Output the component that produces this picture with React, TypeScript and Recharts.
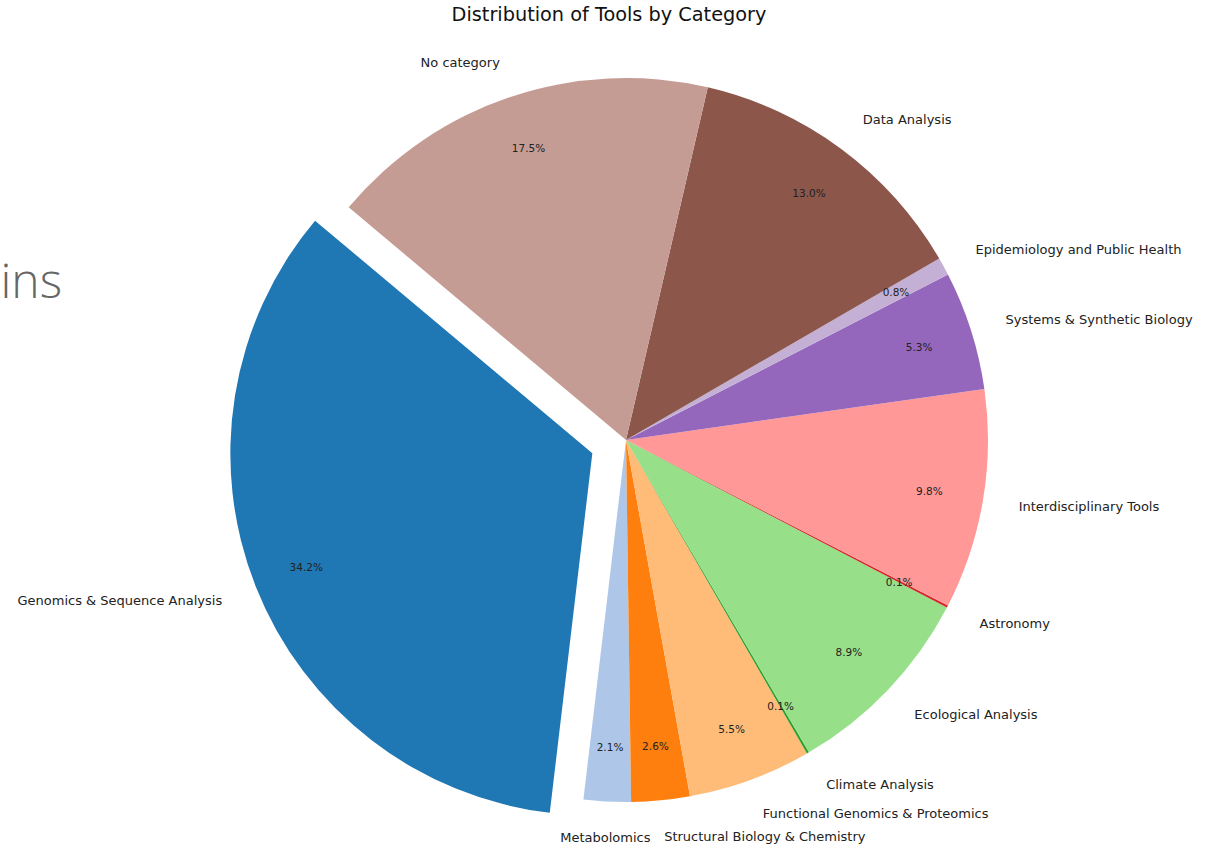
import React from "react";
import { Pie, PieChart, Cell } from "recharts";

const categories = [
  "Genomics & Sequence Analysis",
  "Metabolomics",
  "Structural Biology & Chemistry",
  "Functional Genomics & Proteomics",
  "Climate Analysis",
  "Ecological Analysis",
  "Astronomy",
  "Interdisciplinary Tools",
  "Systems & Synthetic Biology",
  "Epidemiology and Public Health",
  "Data Analysis",
  "No category",
];
const shares = [34.2, 2.1, 2.6, 5.5, 0.1, 8.9, 0.1, 9.8, 5.3, 0.8, 13.0, 17.5];
const colors = [
  "#1f77b4", "#aec7e8", "#ff7f0e", "#ffbb78", "#2ca02c", "#98df8a",
  "#d62728", "#ff9896", "#9467bd", "#c5b0d5", "#8c564b", "#c49c94",
];
const explodedIndex = 0;
// labels that sit under the pie are centred instead of side-aligned
const centredLabels = ["Metabolomics"];

const data = categories.map((name, i) => ({ name, value: shares[i] }));

const W = 1207;
const H = 845;
const CX = 626;
const CY = 440;
const R = 362;
const START = 140;
const RAD = Math.PI / 180;

// explode offset for the first slice (like matplotlib explode=0.1)
const total = shares.reduce((a, b) => a + b, 0);
const before = shares.slice(0, explodedIndex).reduce((a, b) => a + b, 0);
const explodeMid = START + ((before + shares[explodedIndex] / 2) / total) * 360;
const exCX = CX + 0.1 * R * Math.cos(explodeMid * RAD);
const exCY = CY - 0.1 * R * Math.sin(explodeMid * RAD);

const font = "'DejaVu Sans', sans-serif";

function makeLabel(onlyIndex: number | null) {
  return (props: any) => {
    const { cx, cy, midAngle, outerRadius, index, value, name } = props;
    const isExploded = index === explodedIndex;
    if (onlyIndex === null ? isExploded : index !== onlyIndex) return null;
    const c = Math.cos(midAngle * RAD);
    const s = Math.sin(midAngle * RAD);
    const lx = cx + outerRadius * 1.1 * c;
    const ly = cy - outerRadius * 1.1 * s;
    const px = cx + outerRadius * 0.85 * c;
    const py = cy - outerRadius * 0.85 * s;
    const anchor = centredLabels.includes(name) ? "middle" : c >= 0 ? "start" : "end";
    return (
      <g key={`lbl-${index}`}>
        <text
          x={lx}
          y={ly}
          textAnchor={anchor}
          dominantBaseline="central"
          fontFamily={font}
          fontSize={13}
          fill="#222"
        >
          {name}
        </text>
        <text
          x={px}
          y={py}
          textAnchor="middle"
          dominantBaseline="central"
          fontFamily={font}
          fontSize={10.5}
          fill="#222"
        >
          {`${Number(value).toFixed(1)}%`}
        </text>
      </g>
    );
  };
}

export default function App() {
  return (
    <div style={{ position: "absolute", left: 0, top: 0, width: W, height: H, background: "#fff" }}>
      <PieChart width={W} height={H} margin={{ top: 0, right: 0, bottom: 0, left: 0 }}>
        <text x={62} y={298} textAnchor="end" fontFamily="'Open Sans', sans-serif" fontWeight={300} fontSize={48} fill="#666">
          ins
        </text>
        <text
          x={609}
          y={14}
          textAnchor="middle"
          dominantBaseline="central"
          fontFamily={font}
          fontSize={19.3}
          fill="#111"
        >
          Distribution of Tools by Category
        </text>
        <Pie
          data={data}
          dataKey="value"
          nameKey="name"
          cx={CX}
          cy={CY}
          outerRadius={R}
          innerRadius={0}
          startAngle={START}
          endAngle={START + 360}
          stroke="none"
          labelLine={false}
          label={makeLabel(null)}
          isAnimationActive={false}
        >
          {data.map((d, i) => (
            <Cell key={d.name} fill={i === explodedIndex ? "transparent" : colors[i]} />
          ))}
        </Pie>
        <Pie
          data={data}
          dataKey="value"
          nameKey="name"
          cx={exCX}
          cy={exCY}
          outerRadius={R}
          innerRadius={0}
          startAngle={START}
          endAngle={START + 360}
          stroke="none"
          labelLine={false}
          label={makeLabel(explodedIndex)}
          isAnimationActive={false}
        >
          {data.map((d, i) => (
            <Cell key={d.name} fill={i === explodedIndex ? colors[i] : "transparent"} />
          ))}
        </Pie>
      </PieChart>
    </div>
  );
}
